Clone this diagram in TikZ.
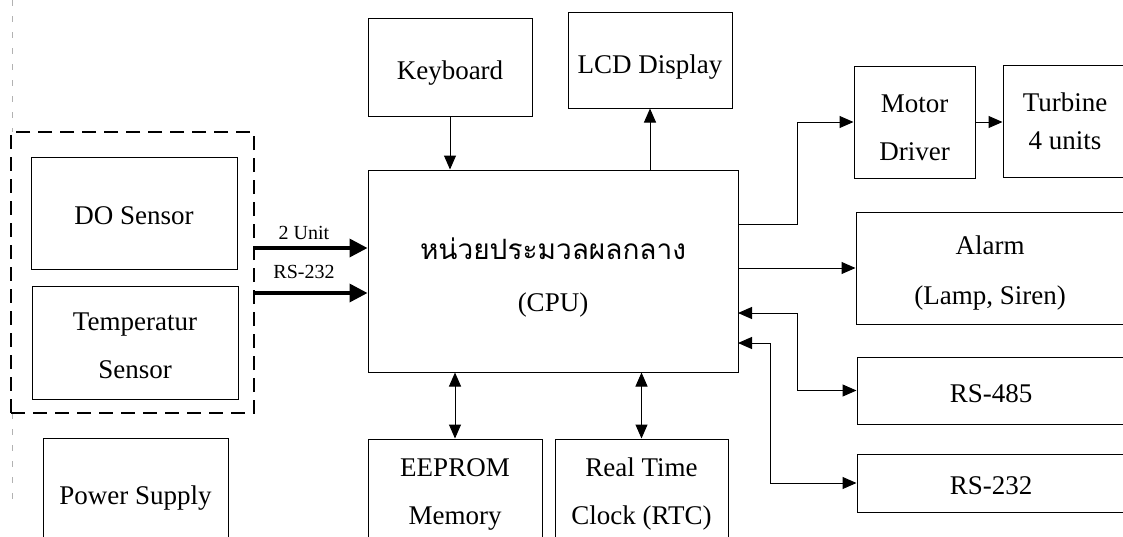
\documentclass[tikz,border=0pt]{standalone}
\usepackage{fontspec}
\setmainfont{Liberation Serif}
\newfontfamily\thaifont[Script=Thai]{Loma}
\usetikzlibrary{arrows.meta}
\begin{document}
\begin{tikzpicture}[x=1pt,y=-1pt,
  box/.style={draw, line width=1pt, inner sep=0pt},
  txt/.style={inner sep=0pt, align=center, font=\fontsize{27}{48}\selectfont},
  grpbox/.style={draw, line width=1.8pt, dash pattern=on 14pt off 8pt, inner sep=0pt},
  lbl/.style={inner sep=0pt, font=\fontsize{20}{24}\selectfont},
  arr/.style={line width=1pt, -{Triangle[length=14pt,width=12pt]}},
  darr/.style={line width=1pt, {Triangle[length=14pt,width=12pt]}-{Triangle[length=14pt,width=12pt]}},
  busarr/.style={line width=3.5pt, -{Triangle[length=18pt,width=18pt]}},
  edge line/.style={gray!60, line width=0.6pt, dash pattern=on 6pt off 10pt}
]
\useasboundingbox (0,0) rectangle (1123,536);

% faint page-edge line
\draw[edge line] (12,0) -- (12,132);
\draw[edge line] (12,413) -- (12,505);

% sensor group
\node[grpbox, minimum width=243pt, minimum height=281pt] (grp) at (132.5,272.5) {};
\node[box, minimum width=206pt, minimum height=112pt] (do) at (134,213) {};
\node[txt] (do-t) at ([yshift=-3pt]do.center) {DO Sensor};
\node[box, minimum width=206pt, minimum height=113pt] (temp) at (135,342.5) {};
\node[txt] (temp-t) at ([yshift=-3.5pt]temp.center) {Temperatur\\Sensor};

% CPU and periphery
\node[box, minimum width=370pt, minimum height=202pt] (cpu) at (553,271) {};
\node[txt, font=\fontsize{27}{52}\selectfont] (cpu-t) at ([yshift=-6.5pt]cpu.center)
  {{\thaifont\fontsize{28}{52}\selectfont หน่วยประมวลผลกลาง}\\(CPU)};
\node[box, minimum width=164pt, minimum height=98pt] (kb) at (450,67) {};
\node[txt] (kb-t) at ([yshift=-6pt]kb.center) {Keyboard};
\node[box, minimum width=164pt, minimum height=96pt] (lcd) at (650,60) {};
\node[txt] (lcd-t) at ([yshift=-7pt]lcd.center) {LCD Display};
\node[box, minimum width=121pt, minimum height=112pt] (motor) at (914.5,122) {};
\node[txt] (motor-t) at ([yshift=-6pt]motor.center) {Motor\\Driver};
\node[box, minimum width=124pt, minimum height=112pt] (turb) at (1065,121) {};
\node[txt, font=\fontsize{27}{38}\selectfont] (turb-t) at (turb.center) {Turbine\\4 units};
\node[box, minimum width=268pt, minimum height=112pt] (alarm) at (990,268) {};
\node[txt, font=\fontsize{27}{50}\selectfont] (alarm-t) at ([yshift=-5pt]alarm.center) {Alarm\\(Lamp, Siren)};
\node[box, minimum width=268pt, minimum height=67pt] (rs485) at (991,390.5) {};
\node[txt] (rs485-t) at ([yshift=-3pt]rs485.center) {RS-485};
\node[box, minimum width=268pt, minimum height=58pt] (rs232) at (991,483) {};
\node[txt] (rs232-t) at ([yshift=-3pt]rs232.center) {RS-232};
\node[box, minimum width=185pt, minimum height=114pt] (ps) at (135.5,495) {};
\node[txt] (ps-t) at ([yshift=-3pt]ps.center) {Power Supply};
\node[box, minimum width=174pt, minimum height=104pt] (ee) at (455,491) {};
\node[txt] (ee-t) at ([yshift=-3pt]ee.center) {EEPROM\\Memory};
\node[box, minimum width=173pt, minimum height=104pt] (rtc) at (641.5,491) {};
\node[txt] (rtc-t) at ([yshift=-3pt]rtc.center) {Real Time\\Clock (RTC)};

% sensor bus arrows
\coordinate (a1) at (254,248);
\coordinate (a2) at (254,293);
\draw[busarr] (a1) -- (a1 -| cpu.west);
\draw[busarr] (a2) -- (a2 -| cpu.west);
\node[lbl] (u2) at (304,233) {2 Unit};
\node[lbl] (rsl) at (304,272) {RS-232};

% top
\draw[arr] (kb.south) -- (kb.south |- cpu.north);
\draw[arr] (lcd.south |- cpu.north) -- (lcd.south);

% right
\coordinate (m0) at (738,224);
\draw[arr] (m0) -- (797,224) |- (motor.west);
\draw[arr] (motor.east) -- (motor.east -| turb.west);
\draw[arr] (cpu.east |- alarm.west) -- (alarm.west);
\coordinate (r1) at (738,313);
\coordinate (r2) at (738,343);
\draw[darr] (r1) -- (797,313) |- (rs485.west);
\draw[darr] (r2) -- (770,343) |- (rs232.west);

% bottom
\draw[darr] (ee.north |- cpu.south) -- (ee.north);
\draw[darr] (rtc.north |- cpu.south) -- (rtc.north);
\end{tikzpicture}
\end{document}
